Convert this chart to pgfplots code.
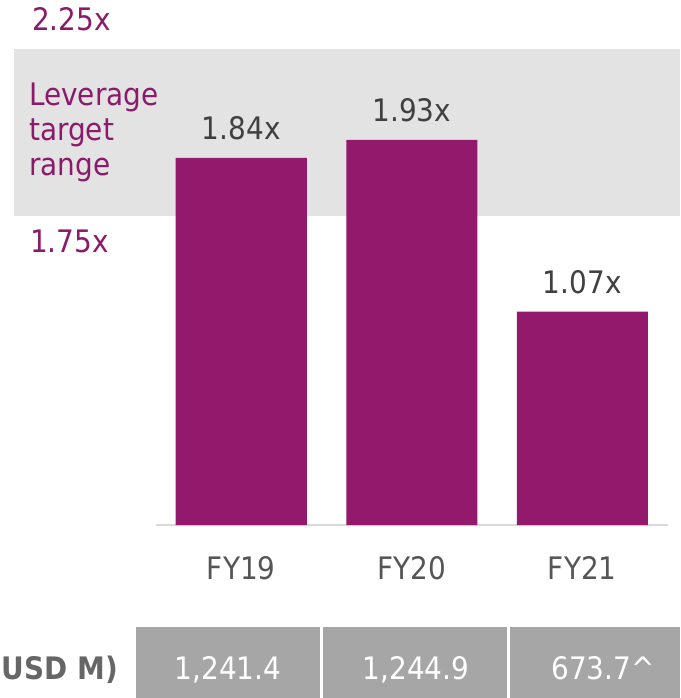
\documentclass[border=0pt]{standalone}
\usepackage{pgfplots}
\pgfplotsset{compat=1.18}
\usepackage{fontspec}
\setmainfont{DejaVu Sans Condensed}

\definecolor{barpurple}{RGB}{146,25,108}
\definecolor{txtpurple}{RGB}{140,26,106}
\definecolor{bandgray}{RGB}{227,227,227}
\definecolor{cellgray}{RGB}{166,166,166}
\definecolor{vallab}{RGB}{64,64,64}
\definecolor{catlab}{RGB}{85,85,85}
\definecolor{basegray}{RGB}{217,217,217}
\definecolor{rowlab}{RGB}{102,102,102}

\newcommand\lblfont{\fontsize{31}{35}\selectfont}

\begin{document}
\begin{tikzpicture}[x=1pt,y=1pt,every node/.style={font=\lblfont}]
% picture coords: origin top left, y down (axis south west sits at 156,525)
\begin{scope}[shift={(-156,525)},yscale=-1]
  \fill[bandgray] (14,49) rectangle (680,216);
\end{scope}

\begin{axis}[
    at={(0,0)}, anchor=south west,
    scale only axis,
    width=511.5pt, height=525pt,
    xmin=-0.5, xmax=2.5,
    ymin=0, ymax=2.6316,
    ybar, bar width=131pt,
    axis x line=bottom,
    axis y line=none,
    x axis line style={draw=basegray, line width=2pt, -},
    major tick length=0pt,
    xtick={0,1,2},
    xticklabels={FY19,FY20,FY21},
    xticklabel style={anchor=base, yshift=-54pt, text=catlab, font=\lblfont},
    clip=false,
]
\addplot[
    fill=barpurple, draw=none,
    nodes near coords,
    point meta=explicit symbolic,
    nodes near coords style={anchor=base, yshift=18pt, text=vallab, font=\lblfont},
] coordinates {
    (0,1.84) [1.84x]
    (1,1.93) [1.93x]
    (2,1.07) [1.07x]
};
\end{axis}

\begin{scope}[shift={(-156,525)},yscale=-1]
  % target range labels
  \node[anchor=base west, inner sep=0, text=txtpurple] at (32,31) {2.25x};
  \node[anchor=base west, inner sep=0, text=txtpurple] at (29,106) {Leverage};
  \node[anchor=base west, inner sep=0, text=txtpurple] at (29,141) {target};
  \node[anchor=base west, inner sep=0, text=txtpurple] at (29,176) {range};
  \node[anchor=base west, inner sep=0, text=txtpurple] at (30,253) {1.75x};
  % net debt row
  \fill[cellgray] (136,627) rectangle (320,698);
  \fill[cellgray] (323,627) rectangle (507,698);
  \fill[cellgray] (510,627) rectangle (680,698);
  \node[anchor=base east, inner sep=0, text=rowlab, font=\lblfont\bfseries] at (118,679) {USD M)};
  \node[anchor=base, inner sep=0, text=white] at (228,679) {1,241.4};
  \node[anchor=base, inner sep=0, text=white] at (416,679) {1,244.9};
  \node[anchor=base, inner sep=0, text=white] at (603,679) {673.7\textasciicircum};
  \pgfresetboundingbox
  \path[use as bounding box] (0,0) rectangle (680,698);
\end{scope}
\end{tikzpicture}
\end{document}
